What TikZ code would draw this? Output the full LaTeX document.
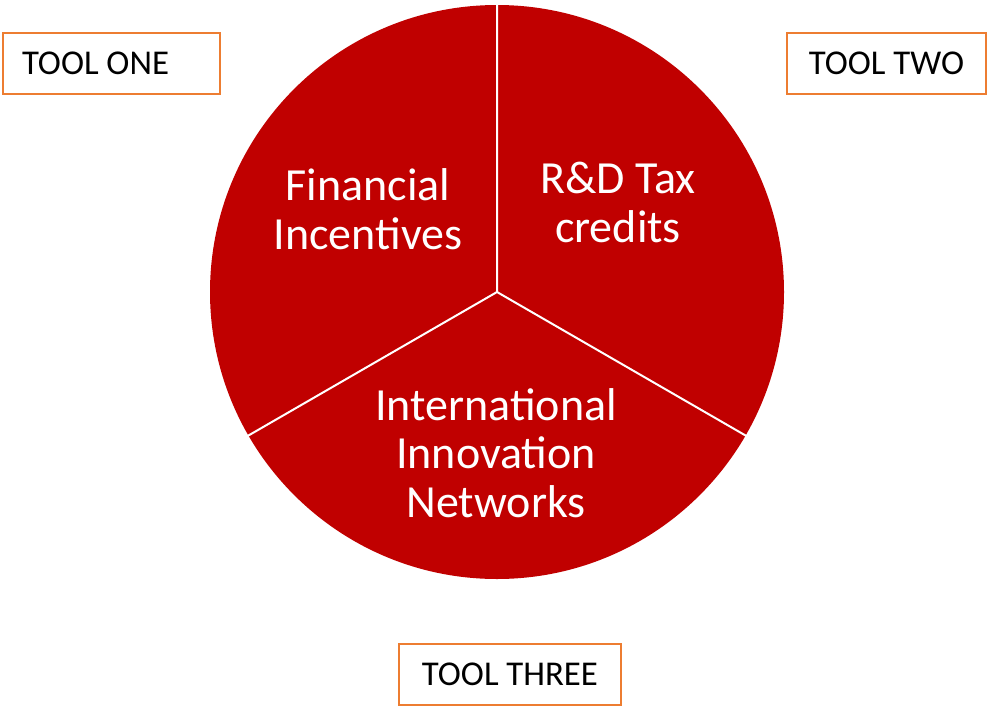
\documentclass[tikz,border=0pt]{standalone}
\usepackage{fontspec}
\setmainfont{Carlito}
\usetikzlibrary{positioning}
\definecolor{piered}{HTML}{C00000}
\definecolor{toolorange}{HTML}{ED7D31}
\begin{document}
\begin{tikzpicture}[x=1pt, y=-1pt,
	tool/.style={draw=toolorange, line width=2pt, minimum height=61pt, inner xsep=19pt, font=\fontsize{34.8}{40}\selectfont},
	slice/.style={text=white, align=center, font=\fontsize{46}{48.5}\selectfont, anchor=base},
	divider/.style={draw=white, line width=2pt}]
	\useasboundingbox (0,0) rectangle (988,707);
	\coordinate (c) at (497,292);
	\fill[piered] (c) circle[radius=287];
	\coordinate (top) at ([shift={(270:288)}]c);
	\coordinate (lft) at ([shift={(150:288)}]c);
	\coordinate (rgt) at ([shift={(30:288)}]c);
	\path[divider] (c) -- (top) (c) -- (lft) (c) -- (rgt);
	\node[slice] (fin) at (368,249) {Financial\\Incentives};
	\node[slice] (rnd) at (618,242) {R\&D Tax\\credits};
	\node[slice] (net) at (496,517) {International\\Innovation\\Networks};
	\node[tool, text width=179pt, align=flush left] (one) at (111.5,63.5) {TOOL ONE};
	\node[tool, minimum width=199pt] (two) at (886.5,63.5) {TOOL TWO};
	\node[tool, minimum width=222pt] (three) at (510,674) {TOOL THREE};
\end{tikzpicture}
\end{document}
